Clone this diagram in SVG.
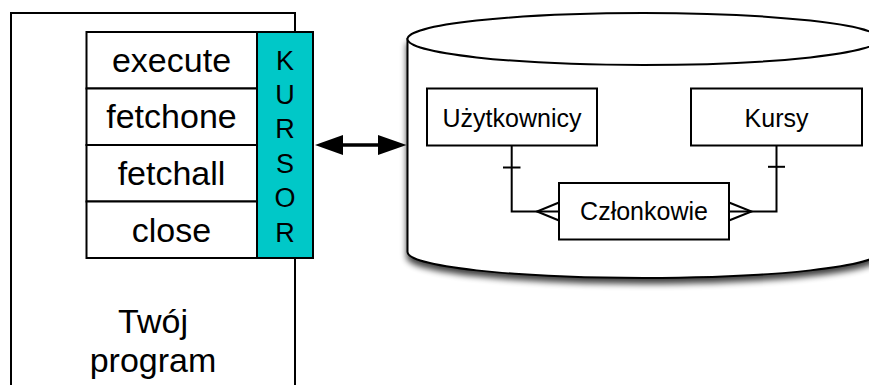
<svg xmlns="http://www.w3.org/2000/svg" width="869" height="385" viewBox="0 0 869 385">
  <style>
    .box { fill: #ffffff; stroke: #000000; stroke-width: 2; }
    .big { font-family: "Liberation Sans", Arial, Helvetica, sans-serif; font-size: 34px; fill: #000000; text-anchor: middle; }
    .cur { font-family: "Liberation Sans", Arial, Helvetica, sans-serif; font-size: 27px; fill: #000000; text-anchor: middle; }
    .small { font-family: "Liberation Sans", Arial, Helvetica, sans-serif; font-size: 25px; fill: #000000; text-anchor: middle; }
    .line { fill: none; stroke: #000000; stroke-width: 2; }
    .head { fill: #000000; stroke: none; }
  </style>
  <defs>
    <filter id="shadow" x="-10%" y="-10%" width="130%" height="140%">
      <feGaussianBlur in="SourceAlpha" stdDeviation="3"/>
      <feOffset dx="0" dy="5" result="b"/>
      <feComponentTransfer><feFuncA type="linear" slope="0.75"/></feComponentTransfer>
      <feMerge><feMergeNode/><feMergeNode in="SourceGraphic"/></feMerge>
    </filter>
  </defs>

  <g id="program">
    <path class="line" d="M11,385 L11,13 L295,13 L295,385"/>
    <text class="big" x="153" y="333">Twój</text>
    <text class="big" x="153" y="372">program</text>
  </g>

  <g id="methods">
    <rect class="box" x="86.5" y="32" width="170.5" height="56.5"/>
    <rect class="box" x="86.5" y="88.5" width="170.5" height="56.5"/>
    <rect class="box" x="86.5" y="145" width="170.5" height="56.5"/>
    <rect class="box" x="86.5" y="201.5" width="170.5" height="56.5"/>
    <text class="big" x="171.5" y="72">execute</text>
    <text class="big" x="171.5" y="128">fetchone</text>
    <text class="big" x="171.5" y="185">fetchall</text>
    <text class="big" x="171.5" y="241.5">close</text>
  </g>

  <g id="kursor">
    <rect x="257" y="32" width="56" height="226" fill="#00C8C8" stroke="#000000" stroke-width="2"/>
    <text class="cur" x="285" y="70">K</text>
    <text class="cur" x="285" y="104">U</text>
    <text class="cur" x="285" y="138">R</text>
    <text class="cur" x="285" y="173">S</text>
    <text class="cur" x="285" y="207">O</text>
    <text class="cur" x="285" y="242">R</text>
  </g>

  <g id="database">
    <path d="M407.5,39 L407.5,252 A236,26 0 0 0 879.5,252 L879.5,39 Z" fill="#ffffff" stroke="#000000" stroke-width="2" filter="url(#shadow)"/>
    <ellipse cx="643.5" cy="39" rx="236" ry="26" fill="#ffffff" stroke="#000000" stroke-width="2"/>
  </g>

  <g id="uzytkownicy">
    <rect class="box" x="427" y="88.5" width="170" height="57"/>
    <text class="small" x="512" y="126.5">Użytkownicy</text>
  </g>

  <g id="kursy">
    <rect class="box" x="691" y="88.5" width="171" height="57"/>
    <text class="small" x="776.5" y="126.5">Kursy</text>
  </g>

  <g id="czlonkowie">
    <rect class="box" x="559" y="183" width="170" height="56.5"/>
    <text class="small" x="644" y="220">Członkowie</text>
  </g>

  <g id="connectors">
    <line x1="340" y1="145" x2="381" y2="145" stroke="#000000" stroke-width="3.5"/>
    <polygon class="head" points="315,145 343,135 343,155"/>
    <polygon class="head" points="406.5,145 378,135 378,155"/>
    <path class="line" d="M511.7,145.5 L511.7,211.5 L559,211.5"/>
    <path class="line" d="M503,167.5 L520.5,167.5"/>
    <path class="line" d="M559,202.5 L537,211.5 L559,220.5"/>
    <path class="line" d="M776.5,145.5 L776.5,211.5 L729,211.5"/>
    <path class="line" d="M768,166.8 L785,166.8"/>
    <path class="line" d="M729,202.5 L751.5,211.5 L729,220.5"/>
  </g>
</svg>
